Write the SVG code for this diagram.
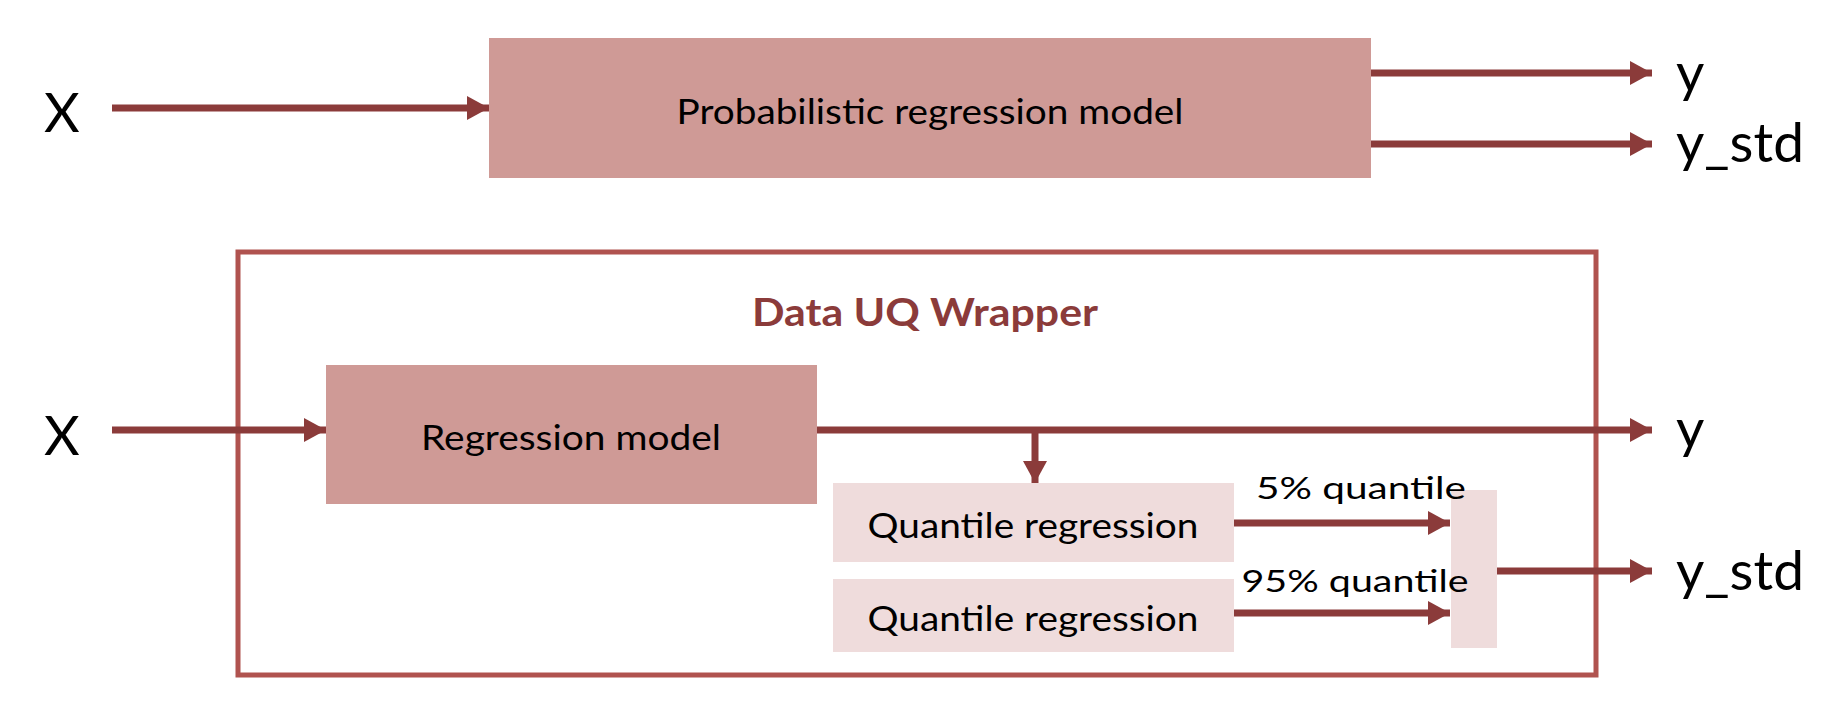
<svg xmlns="http://www.w3.org/2000/svg" width="1848" height="704" viewBox="0 0 1848 704">
<defs>
<style>
.dark{fill:#CF9A96;}
.light{fill:#EFDCDC;}
.lbl{font-family:Lato,"Open Sans",sans-serif;fill:#000;text-anchor:middle;dominant-baseline:central;}
.io{font-family:Lato,"Open Sans",sans-serif;fill:#000;font-size:55px;}
.c{stroke:#8B3B3A;stroke-width:7;fill:none;}
</style>
<marker id="ah" viewBox="0 0 22 24" refX="22" refY="12" markerWidth="22" markerHeight="24" orient="auto" markerUnits="userSpaceOnUse">
<path d="M0,0 L22,12 L0,24 z" fill="#8B3B3A"/>
</marker>
</defs>
<rect width="1848" height="704" fill="#fff"/>
<g id="wrapper">
<rect x="238" y="252" width="1358" height="423" fill="none" stroke="#B0534F" stroke-width="5"/>
<text class="lbl" x="925" y="311" font-size="38" font-weight="bold" style="fill:#8B3B3A" textLength="346" lengthAdjust="spacingAndGlyphs">Data UQ Wrapper</text>
</g>
<g id="prob-model">
<rect class="dark" x="489" y="38" width="882" height="140"/>
<text class="lbl" x="930" y="110" font-size="35" textLength="507" lengthAdjust="spacingAndGlyphs">Probabilistic regression model</text>
</g>
<g id="reg-model">
<rect class="dark" x="326" y="365" width="491" height="139"/>
<text class="lbl" x="571" y="436" font-size="35" textLength="300" lengthAdjust="spacingAndGlyphs">Regression model</text>
</g>
<g id="qr1">
<rect class="light" x="833" y="483" width="401" height="79"/>
<text class="lbl" x="1033" y="524" font-size="35" textLength="331" lengthAdjust="spacingAndGlyphs">Quantile regression</text>
</g>
<g id="qr2">
<rect class="light" x="833" y="579" width="401" height="73"/>
<text class="lbl" x="1033" y="617" font-size="35" textLength="331" lengthAdjust="spacingAndGlyphs">Quantile regression</text>
</g>
<g id="combine">
<rect class="light" x="1451" y="490" width="46" height="158"/>
</g>
<g id="io-labels">
<text class="io" x="44" y="132">X</text>
<text class="io" x="44" y="455">X</text>
<text class="io" x="1676" y="92">y</text>
<text class="io" x="1676" y="162">y_std</text>
<text class="io" x="1676" y="448">y</text>
<text class="io" x="1676" y="590">y_std</text>
</g>
<g id="connectors">
<line class="c" x1="112" y1="108" x2="489" y2="108" marker-end="url(#ah)"/>
<line class="c" x1="1371" y1="73" x2="1652" y2="73" marker-end="url(#ah)"/>
<line class="c" x1="1371" y1="144" x2="1652" y2="144" marker-end="url(#ah)"/>
<line class="c" x1="112" y1="430" x2="326" y2="430" marker-end="url(#ah)"/>
<line class="c" x1="817" y1="430" x2="1652" y2="430" marker-end="url(#ah)"/>
<line class="c" x1="1035" y1="430" x2="1035" y2="483" marker-end="url(#ah)"/>
<line class="c" x1="1234" y1="523" x2="1450" y2="523" marker-end="url(#ah)"/>
<line class="c" x1="1234" y1="613" x2="1450" y2="613" marker-end="url(#ah)"/>
<line class="c" x1="1497" y1="571" x2="1652" y2="571" marker-end="url(#ah)"/>
<text class="lbl" x="1361" y="487" font-size="30" textLength="210" lengthAdjust="spacingAndGlyphs">5% quantile</text>
<text class="lbl" x="1355" y="580" font-size="30" textLength="227" lengthAdjust="spacingAndGlyphs">95% quantile</text>
</g>
</svg>
